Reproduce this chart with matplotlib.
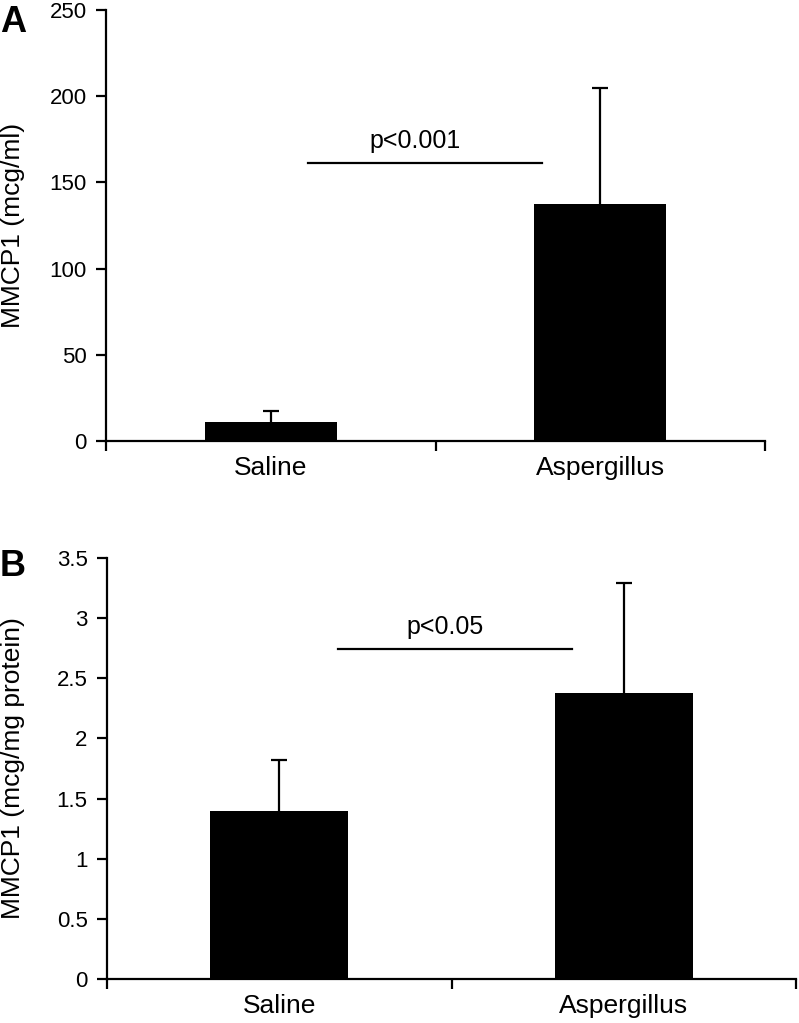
import numpy as np
import matplotlib.pyplot as plt

plt.rcParams['font.family'] = ['Liberation Sans', 'DejaVu Sans']

# data
groups = ['Saline', 'Aspergillus']
mmcp1_serum = [11.2, 137.5]
mmcp1_serum_err = [6.2, 67.5]
mmcp1_lung = [1.40, 2.38]
mmcp1_lung_err = [0.42, 0.91]

W, H = 799, 1023
fig = plt.figure(figsize=(W / 100, H / 100), dpi=100)


def px_axes(left, right, top, bottom):
    """ axes from pixel box of the reference """
    return fig.add_axes([left / W, 1 - bottom / H, (right - left) / W, (bottom - top) / H])


def bar_panel(ax, vals, errs, ylim, yticks, ylabel, ptext, pline_y, pline_x):
    x = np.arange(len(groups))
    ax.bar(x, vals, width=0.4, color='black', zorder=2)
    eb = ax.errorbar(x, vals, yerr=[np.zeros(len(errs)), errs], fmt='none',
                     ecolor='black', elinewidth=1.6, capsize=6, capthick=1.6, zorder=1)
    # only the upper cap is drawn in the original
    eb[1][0].set_visible(False)
    ax.set_xlim(-0.5, 1.5)
    ax.set_ylim(*ylim)
    ax.set_yticks(yticks)
    ax.set_yticklabels(['%g' % t for t in yticks])
    ax.set_xticks(x)
    ax.set_xticklabels(groups, fontsize=19)
    ax.set_xticks([-0.5, 0.5, 1.5], minor=True)
    ax.tick_params(axis='x', which='major', length=0, pad=11)
    ax.tick_params(axis='x', which='minor', length=7, width=1.6, direction='out')
    ax.tick_params(axis='y', length=7, width=1.6, direction='out', labelsize=16, pad=7)
    for s in ['top', 'right']:
        ax.spines[s].set_visible(False)
    for s in ['left', 'bottom']:
        ax.spines[s].set_linewidth(1.6)
    ax.set_ylabel(ylabel, fontsize=19)
    ax.plot(pline_x, [pline_y, pline_y], color='black', lw=1.6, clip_on=False)
    ax.text(np.mean(pline_x) - 0.03, pline_y + (ylim[1] - ylim[0]) * 0.025, ptext,
            fontsize=18, ha='center', va='bottom')


axA = px_axes(106, 765, 10, 441)
bar_panel(axA, mmcp1_serum, mmcp1_serum_err, (0, 250), [0, 50, 100, 150, 200, 250],
          'MMCP1 (mcg/ml)', 'p<0.001', 161, [0.112, 0.823])
axA.yaxis.set_label_coords(-0.123, 0.5)

axB = px_axes(107, 796, 558, 979)
bar_panel(axB, mmcp1_lung, mmcp1_lung_err, (0, 3.5), [0, 0.5, 1, 1.5, 2, 2.5, 3, 3.5],
          'MMCP1 (mcg/mg protein)', 'p<0.05', 2.74, [0.17, 0.85])
axB.yaxis.set_label_coords(-0.119, 0.5)

fig.text(0.0, 1 - 5 / H, 'A', fontsize=26, fontweight='bold', va='top', ha='left')
fig.text(0.0, 1 - 549 / H, 'B', fontsize=26, fontweight='bold', va='top', ha='left')

fig.savefig('out.png', dpi=100)
